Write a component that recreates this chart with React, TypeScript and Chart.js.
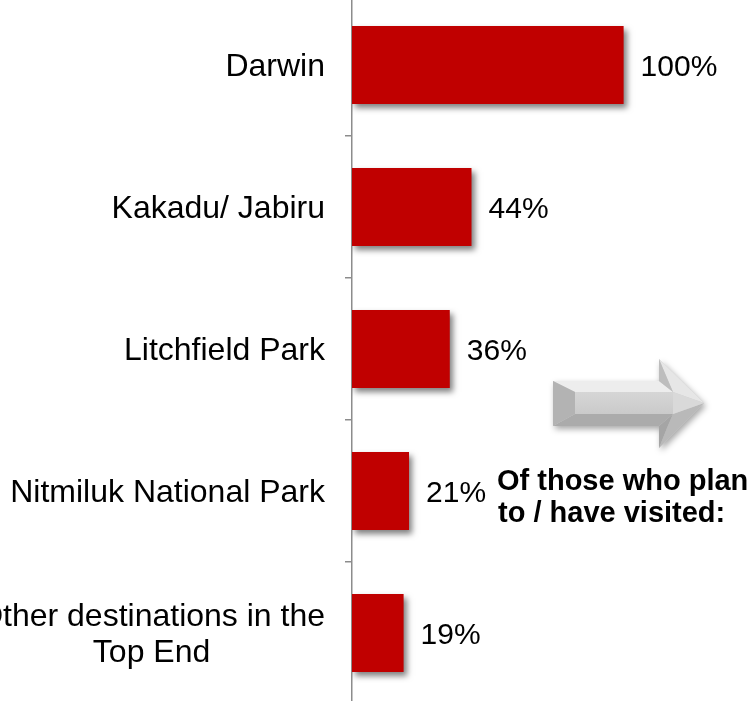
import React, { useEffect, useRef } from "react";
import { Chart, registerables } from "chart.js";

Chart.register(...registerables);

const categories: (string | string[])[] = [
  "Darwin",
  "Kakadu/ Jabiru",
  "Litchfield Park",
  "Nitmiluk National Park",
  ["Other destinations in the", "Top End"],
];
const values = [100, 44, 36, 21, 19];
const valueLabels = values.map((v) => `${v}%`);
const noteLines = ["Of those who plan", "to / have visited:"];

const FONT = '"Liberation Sans", Arial, Helvetica, sans-serif';

function drawArrow(ctx: CanvasRenderingContext2D, dy: number) {
  const P = (pts: number[][], fill: string | CanvasGradient) => {
    ctx.beginPath();
    pts.forEach(([x, y], i) => (i === 0 ? ctx.moveTo(x, y + dy) : ctx.lineTo(x, y + dy)));
    ctx.closePath();
    ctx.fillStyle = fill;
    ctx.fill();
  };
  ctx.save();
  ctx.shadowColor = "rgba(0,0,0,0.35)";
  ctx.shadowBlur = 6;
  ctx.shadowOffsetX = 2;
  ctx.shadowOffsetY = 3;
  P(
    [
      [553, 381],
      [659, 381],
      [659, 359],
      [704, 403],
      [659, 448],
      [659, 426],
      [553, 426],
    ],
    "#cfcfcf"
  );
  ctx.restore();
  ctx.save();
  P([[553, 381], [659, 381], [673, 392], [575, 392]], "#ededed");
  P([[553, 426], [659, 426], [673, 414], [575, 414]], "#ababab");
  P([[553, 381], [575, 392], [575, 414], [553, 426]], "#b3b3b3");
  const g = ctx.createLinearGradient(0, 392 + dy, 0, 414 + dy);
  g.addColorStop(0, "#d6d6d6");
  g.addColorStop(1, "#cacaca");
  P([[575, 392], [673, 392], [673, 414], [575, 414]], g);
  P([[659, 359], [704, 403], [673, 392], [667, 378]], "#e6e6e6");
  P([[659, 448], [704, 403], [673, 414], [667, 428]], "#b9b9b9");
  P([[659, 359], [667, 378], [673, 392], [659, 381]], "#bdbdbd");
  P([[659, 448], [667, 428], [673, 414], [659, 426]], "#a5a5a5");
  P([[673, 392], [704, 403], [673, 414]], "#d9d9d9");
  ctx.restore();
}

const overlayPlugin = {
  id: "overlay",
  beforeDatasetsDraw(chart: any) {
    const ctx = chart.ctx;
    ctx.save();
    ctx.shadowColor = "rgba(0,0,0,0.5)";
    ctx.shadowBlur = 6;
    ctx.shadowOffsetX = 3;
    ctx.shadowOffsetY = 4;
  },
  afterDatasetsDraw(chart: any) {
    chart.ctx.restore();
  },
  afterDraw(chart: any) {
    const ctx: CanvasRenderingContext2D = chart.ctx;
    const yScale = chart.scales.y;
    const area = chart.chartArea;
    const meta = chart.getDatasetMeta(0);
    ctx.save();
    ctx.fillStyle = "#000";
    ctx.textBaseline = "middle";
    ctx.font = `32px ${FONT}`;
    categories.forEach((c, i) => {
      const lines = Array.isArray(c) ? c : [c];
      const y = yScale.getPixelForValue(i) + 2;
      const right = area.left - 27;
      const maxW = Math.max(...lines.map((l) => ctx.measureText(l).width));
      const lh = 36;
      lines.forEach((l, j) => {
        const ly = y + (j - (lines.length - 1) / 2) * lh;
        if (lines.length > 1) {
          ctx.textAlign = "center";
          ctx.fillText(l, right - maxW / 2, ly);
        } else {
          ctx.textAlign = "right";
          ctx.fillText(l, right, ly);
        }
      });
    });
    ctx.font = `30px ${FONT}`;
    ctx.textAlign = "left";
    meta.data.forEach((bar: any, i: number) => {
      ctx.fillText(valueLabels[i], bar.x + 17, bar.y + 3);
    });
    ctx.restore();
    const dy = 6;
    drawArrow(ctx, dy);
    ctx.save();
    ctx.fillStyle = "#000";
    ctx.font = `bold 29px ${FONT}`;
    ctx.textAlign = "left";
    ctx.textBaseline = "alphabetic";
    ctx.fillText(noteLines[0], 497, 490 + dy);
    ctx.fillText(noteLines[1], 498, 522 + dy);
    ctx.restore();
  },
};

export default function App() {
  const ref = useRef<HTMLCanvasElement | null>(null);
  useEffect(() => {
    if (!ref.current) return;
    const chart = new Chart(ref.current, {
      type: "bar",
      data: {
        labels: categories as any,
        datasets: [
          {
            data: values,
            backgroundColor: "#C00000",
            borderWidth: 0,
            categoryPercentage: 1,
            barPercentage: 0.55,
          },
        ],
      },
      options: {
        indexAxis: "y",
        animation: false,
        responsive: false,
        maintainAspectRatio: false,
        layout: { padding: 0 },
        plugins: { legend: { display: false }, tooltip: { enabled: false } },
        scales: {
          x: { display: false, min: 0, max: 148 },
          y: {
            grid: {
              display: true,
              drawOnChartArea: false,
              drawTicks: true,
              tickLength: 7,
              color: "#8c8c8c",
              lineWidth: 1.5,
              offset: true,
            },
            border: { display: true, color: "#8c8c8c", width: 1.5 },
            ticks: { display: false },
            afterFit: (s: any) => {
              s.width = 352;
            },
          },
        },
      },
      plugins: [overlayPlugin],
    });
    return () => chart.destroy();
  }, []);
  return (
    <div
      style={{
        position: "fixed",
        left: 0,
        top: 0,
        width: 754,
        height: 701,
        overflow: "hidden",
        background: "#fff",
      }}
    >
      <canvas
        ref={ref}
        width={754}
        height={710}
        style={{ position: "absolute", left: 0, top: -6, display: "block" }}
      />
    </div>
  );
}
